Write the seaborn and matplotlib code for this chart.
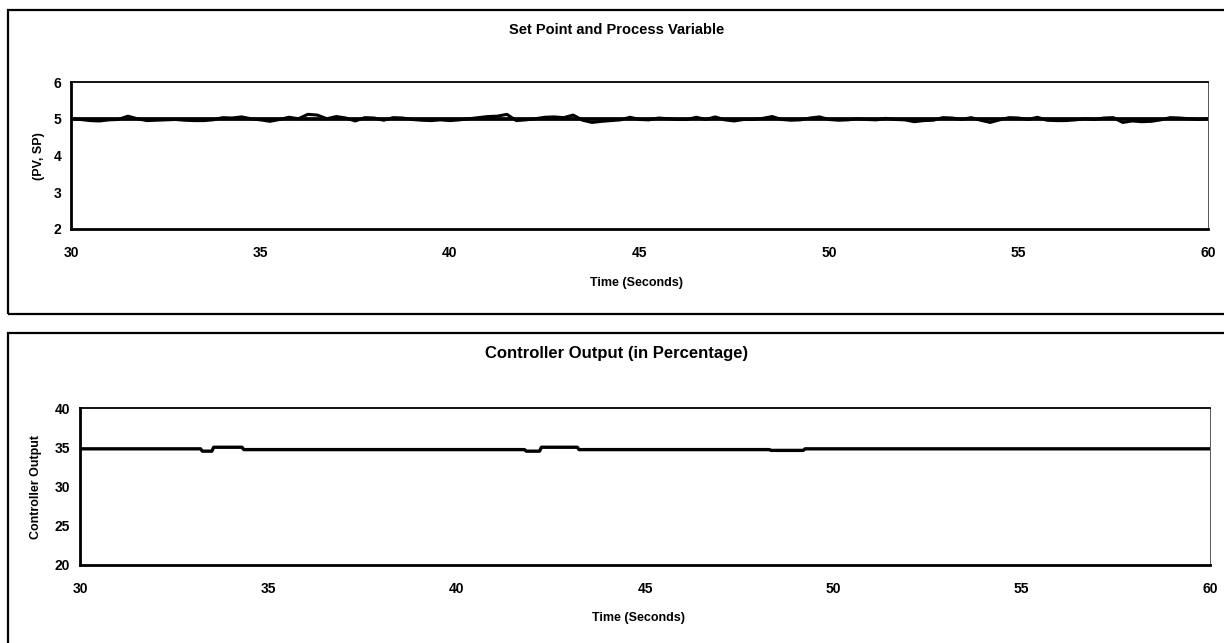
import numpy as np
import pandas as pd
import matplotlib
matplotlib.use("Agg")
import matplotlib.pyplot as plt
from matplotlib.patches import Rectangle
import seaborn as sns

# ---------------- data ----------------
pv_time = np.arange(30.0, 60.001, 0.25)
pv_values = [
    5.00, 4.98, 4.95, 4.94,
    4.97, 4.98, 5.07, 5.00,
    4.95, 4.96, 4.97, 4.98,
    4.96, 4.95, 4.95, 4.97,
    5.03, 5.02, 5.05, 5.00,
    4.97, 4.93, 4.98, 5.04,
    5.00, 5.12, 5.10, 5.00,
    5.06, 5.02, 4.94, 5.03,
    5.02, 4.96, 5.03, 5.02,
    4.98, 4.96, 4.95, 4.97,
    4.95, 4.97, 5.00, 5.03,
    5.06, 5.07, 5.12, 4.95,
    4.97, 5.00, 5.04, 5.05,
    5.03, 5.10, 4.96, 4.90,
    4.93, 4.95, 4.97, 5.04,
    4.98, 4.97, 5.02, 5.00,
    4.98, 4.98, 5.04, 4.98,
    5.05, 4.97, 4.94, 4.98,
    4.98, 5.01, 5.06, 4.98,
    4.96, 4.97, 5.02, 5.05,
    4.98, 4.96, 4.97, 5.00,
    4.98, 4.97, 5.01, 4.98,
    4.97, 4.92, 4.95, 4.96,
    5.03, 5.02, 4.98, 5.03,
    4.96, 4.90, 4.97, 5.03,
    5.02, 4.98, 5.04, 4.96,
    4.95, 4.95, 4.97, 5.00,
    4.98, 5.02, 5.03, 4.90,
    4.94, 4.92, 4.93, 4.97,
    5.03, 5.02, 5.00, 4.98,
    5.00,
]
sp_time = [30.0, 60.0]
sp_values = [5.0, 5.0]

co_time = [30.0, 33.2, 33.25, 33.5, 33.55, 34.3, 34.35, 41.8, 41.85, 42.2,
           42.25, 43.2, 43.25, 48.3, 48.35, 49.2, 49.25, 60.0]
co_values = [34.8, 34.8, 34.5, 34.5, 35.0, 35.0, 34.7, 34.7, 34.5, 34.5,
             35.0, 35.0, 34.7, 34.7, 34.6, 34.6, 34.8, 34.8]

x_ticks = [30, 35, 40, 45, 50, 55, 60]
pv_yticks = [2, 3, 4, 5, 6]
co_yticks = [20, 25, 30, 35, 40]

title_top = "Set Point and Process Variable"
title_bottom = "Controller Output (in Percentage)"
xlabel = "Time (Seconds)"
ylabel_top = "(PV, SP)"
ylabel_bottom = "Controller Output"

# ---------------- style ----------------
sns.set_style("white", {"axes.edgecolor": "black", "text.color": "black",
                        "axes.labelcolor": "black", "xtick.color": "black",
                        "ytick.color": "black"})
plt.rcParams['font.family'] = ['Liberation Sans', 'DejaVu Sans']
plt.rcParams['text.color'] = 'black'

W, H = 1224, 643
fig = plt.figure(figsize=(W / 100, H / 100), dpi=100)

# panel frames
for (y0, y1) in [(10, 314), (333, 646)]:
    fig.patches.append(Rectangle((8 / W, 1 - y1 / H), (1240 - 8) / W, (y1 - y0) / H,
                                 transform=fig.transFigure, fill=False,
                                 edgecolor='black', linewidth=1.6))

ax1 = fig.add_axes([71 / W, 1 - 229 / H, (1208 - 71) / W, (229 - 82) / H])
ax2 = fig.add_axes([80 / W, 1 - 565 / H, (1210 - 80) / W, (565 - 408) / H])

df_pv = pd.DataFrame({"t": pv_time, "v": pv_values})
df_sp = pd.DataFrame({"t": sp_time, "v": sp_values})
df_co = pd.DataFrame({"t": co_time, "v": co_values})

sns.lineplot(data=df_pv, x="t", y="v", ax=ax1, color="black", linewidth=2.2, sort=True)
sns.lineplot(data=df_sp, x="t", y="v", ax=ax1, color="black", linewidth=2.7)
sns.lineplot(data=df_co, x="t", y="v", ax=ax2, color="black", linewidth=2.4)

for ax, yt in [(ax1, pv_yticks), (ax2, co_yticks)]:
    ax.set_xlim(30, 60)
    ax.set_ylim(yt[0], yt[-1])
    ax.set_xticks(x_ticks)
    ax.set_yticks(yt)
    ax.set_xlabel("")
    ax.set_ylabel("")
    for s in ax.spines.values():
        s.set_visible(True)
        s.set_color('black')
    ax.spines['left'].set_linewidth(2.0)
    ax.spines['bottom'].set_linewidth(2.0)
    ax.spines['top'].set_linewidth(1.3)
    ax.spines['right'].set_linewidth(0.7)
    ax.spines['right'].set_color('#555555')
    ax.tick_params(axis='both', direction='out', length=4, width=1.5,
                   colors='black', labelsize=10)
    ax.tick_params(axis='x', pad=8)
    ax.tick_params(axis='y', pad=3)
    for lab in ax.get_xticklabels() + ax.get_yticklabels():
        lab.set_fontweight('bold')
        lab.set_color('black')

fig.text(617 / W, 1 - 30 / H, title_top, ha='center', va='center',
         fontsize=10.5, fontweight='bold', color='black')
fig.text(617 / W, 1 - 353 / H, title_bottom, ha='center', va='center',
         fontsize=12, fontweight='bold', color='black')
fig.text(637 / W, 1 - 283 / H, xlabel, ha='center', va='center',
         fontsize=9, fontweight='bold', color='black')
fig.text(638 / W, 1 - 618 / H, xlabel, ha='center', va='center',
         fontsize=9, fontweight='bold', color='black')
fig.text(39 / W, 1 - 156 / H, ylabel_top, ha='center', va='center',
         rotation=90, fontsize=9, fontweight='bold', color='black')
fig.text(36 / W, 1 - 487 / H, ylabel_bottom, ha='center', va='center',
         rotation=90, fontsize=9, fontweight='bold', color='black')

fig.savefig("out.png", dpi=100)
